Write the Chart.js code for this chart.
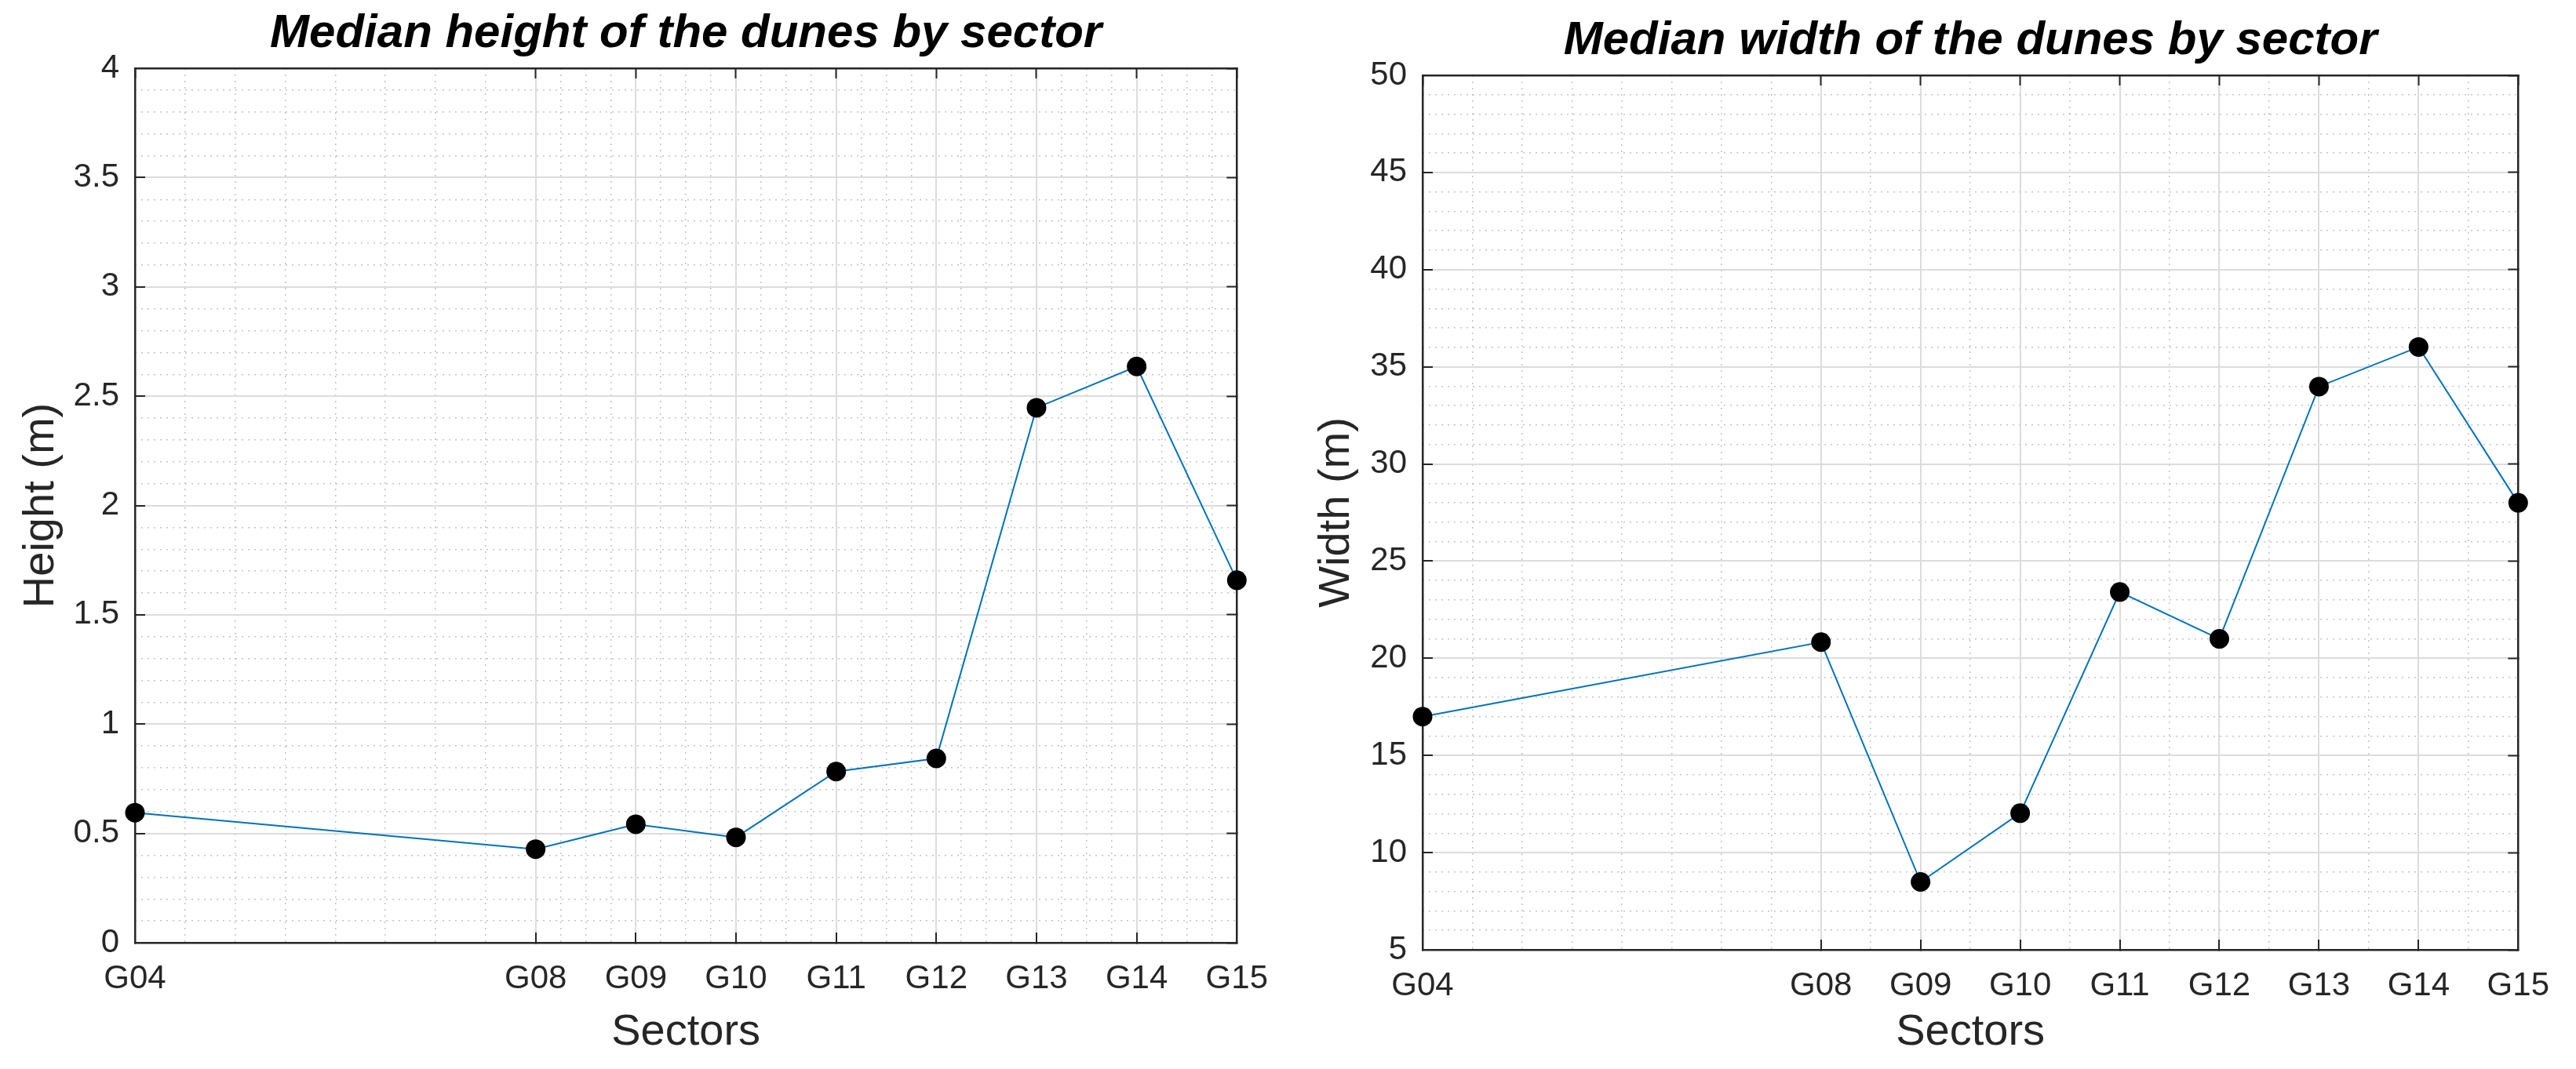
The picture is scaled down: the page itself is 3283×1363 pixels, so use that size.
<!DOCTYPE html>
<html>
<head>
<meta charset="utf-8">
<script src="https://cdn.jsdelivr.net/npm/chart.js@4"></script>
<style>
  body { margin: 0; background: #fff; }
  .box { position: absolute; top: 0; height: 1363px; }
  #boxHeight { left: 0; width: 1650px; }
  #boxWidth { left: 1650px; width: 1633px; }
</style>
</head>
<body>
<div class="box" id="boxHeight"><canvas id="chartHeight"></canvas></div>
<div class="box" id="boxWidth"><canvas id="chartWidth"></canvas></div>
<script>
const sectorNums = [4, 8, 9, 10, 11, 12, 13, 14, 15];
const sectorLabels = ["G04", "G08", "G09", "G10", "G11", "G12", "G13", "G14", "G15"];
const heightValues = [0.595, 0.428, 0.542, 0.482, 0.783, 0.843, 2.447, 2.636, 1.658];
const widthValues = [17.0, 20.83, 8.49, 12.03, 23.41, 21.0, 33.98, 36.02, 28.0];
const heightTicks = [0, 0.5, 1, 1.5, 2, 2.5, 3, 3.5, 4];
const widthTicks = [5, 10, 15, 20, 25, 30, 35, 40, 45, 50];

const FONT = "'Liberation Sans', Arial, Helvetica, sans-serif";
const INK = "#262626";

// minor grid steps between major ticks
function subdivide(majors, splits) {
  const out = [];
  for (let i = 0; i < majors.length - 1; i++) {
    const a = majors[i], b = majors[i + 1];
    for (let k = 1; k < splits[i]; k++) out.push(a + (b - a) * k / splits[i]);
  }
  return out;
}

function makeChart(canvasId, cfg) {
  const xMinor = subdivide(sectorNums, cfg.xSplits);
  const yMinor = subdivide(cfg.yTicks, cfg.yTicks.slice(1).map(() => 5));
  const xMin = sectorNums[0], xMax = sectorNums[sectorNums.length - 1];
  const yMin = cfg.yTicks[0], yMax = cfg.yTicks[cfg.yTicks.length - 1];
  const setTicks = vals => s => { s.ticks = vals.map(v => ({ value: v })); };
  const border = { color: INK, width: 2.5 };

  return new Chart(document.getElementById(canvasId), {
    type: "line",
    data: {
      datasets: [{
        data: sectorNums.map((x, i) => ({ x: x, y: cfg.values[i] })),
        borderColor: "#0072BD",
        borderWidth: 2,
        pointRadius: 12.5,
        pointBackgroundColor: "#000",
        pointBorderColor: "#000",
        pointBorderWidth: 0,
        clip: false,
        xAxisID: "x",
        yAxisID: "y"
      }]
    },
    options: {
      responsive: true,
      maintainAspectRatio: false,
      animation: false,
      layout: { padding: { left: 0, right: cfg.padRight, top: 0, bottom: 0 } },
      plugins: {
        legend: { display: false },
        tooltip: { enabled: false },
        title: {
          display: true,
          fullSize: false,
          text: cfg.title,
          color: "#000",
          font: { family: FONT, size: 60, weight: "bold", style: "italic", lineHeight: 1.2 },
          padding: { top: cfg.titleTop, bottom: cfg.titleBottom }
        }
      },
      scales: {
        xMinor: {
          type: "linear", position: "bottom", min: xMin, max: xMax,
          afterBuildTicks: setTicks(xMinor),
          afterFit: s => { s.height = 0; },
          ticks: { display: false },
          grid: { color: "#c4c4c4", lineWidth: 1.5, drawTicks: false },
          border: { display: false, dash: [2, 6] }
        },
        yMinor: {
          type: "linear", position: "left", min: yMin, max: yMax,
          afterBuildTicks: setTicks(yMinor),
          afterFit: s => { s.width = 0; },
          ticks: { display: false },
          grid: { color: "#c4c4c4", lineWidth: 1.5, drawTicks: false },
          border: { display: false, dash: [2, 6] }
        },
        x: {
          type: "linear", position: "bottom", min: xMin, max: xMax,
          afterBuildTicks: setTicks(sectorNums),
          afterFit: s => { s.height = cfg.xHeight; },
          ticks: {
            color: INK, padding: 34, maxRotation: 0, autoSkip: false,
            font: { family: FONT, size: 42 },
            callback: v => sectorLabels[sectorNums.indexOf(v)]
          },
          grid: { color: "#dcdcdc", lineWidth: 2, tickLength: -13, tickColor: INK, tickWidth: 2 },
          border: border,
          title: {
            display: true, text: "Sectors", color: INK,
            font: { family: FONT, size: 56, lineHeight: 1.2 },
            padding: { top: 0, bottom: 13 }
          }
        },
        y: {
          type: "linear", position: "left", min: yMin, max: yMax,
          afterBuildTicks: setTicks(cfg.yTicks),
          afterFit: s => { s.width = cfg.yWidth; },
          ticks: {
            color: INK, padding: 33,
            font: { family: FONT, size: 42 },
            callback: v => String(v)
          },
          grid: { color: "#dcdcdc", lineWidth: 2, tickLength: -13, tickColor: INK, tickWidth: 2 },
          border: border,
          title: {
            display: true, text: cfg.yTitle, color: INK,
            font: { family: FONT, size: 56, lineHeight: 1.2 },
            padding: { top: cfg.yTitlePad, bottom: 0 }
          }
        },
        xTop: {
          type: "linear", position: "top", min: xMin, max: xMax,
          afterBuildTicks: setTicks(sectorNums),
          afterFit: s => { s.height = 0; },
          ticks: { display: false },
          grid: { drawOnChartArea: false, tickLength: -13, tickColor: INK, tickWidth: 2 },
          border: border
        },
        yRight: {
          type: "linear", position: "right", min: yMin, max: yMax,
          afterBuildTicks: setTicks(cfg.yTicks),
          afterFit: s => { s.width = 0; },
          ticks: { display: false },
          grid: { drawOnChartArea: false, tickLength: -13, tickColor: INK, tickWidth: 2 },
          border: border
        }
      }
    }
  });
}

makeChart("chartHeight", {
  title: "Median height of the dunes by sector",
  yTitle: "Height (m)",
  values: heightValues,
  yTicks: heightTicks,
  xSplits: [8, 4, 4, 4, 4, 4, 4, 4],
  padRight: 67, xHeight: 161, yWidth: 172,
  titleTop: 7, titleBottom: 8, yTitlePad: 19
});

makeChart("chartWidth", {
  title: "Median width of the dunes by sector",
  yTitle: "Width (m)",
  values: widthValues,
  yTicks: widthTicks,
  xSplits: [8, 2, 2, 2, 2, 2, 2, 2],
  padRight: 58, xHeight: 152, yWidth: 163,
  titleTop: 16, titleBottom: 8, yTitlePad: 20
});
</script>
</body>
</html>
